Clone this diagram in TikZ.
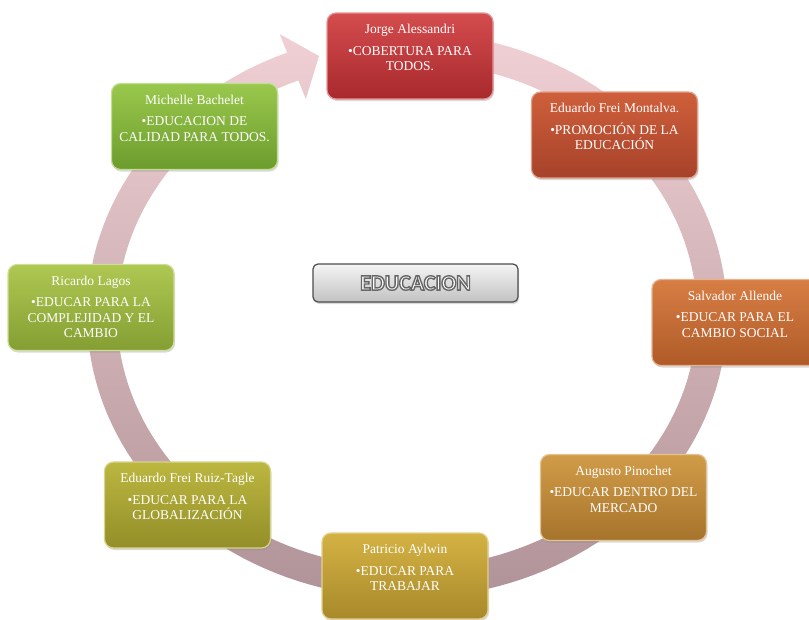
\documentclass[tikz,border=0pt]{standalone}
\usepackage{fontspec}
\setmainfont{Liberation Serif}
\newfontfamily\titlesans{Carlito}
\usetikzlibrary{shadows}

\definecolor{ringT}{HTML}{F0D0D4}
\definecolor{ringB}{HTML}{B09398}
\definecolor{jorT}{HTML}{D44C4E}\definecolor{jorB}{HTML}{A8292C}
\definecolor{frmT}{HTML}{CF5F3B}\definecolor{frmB}{HTML}{A6422A}
\definecolor{allT}{HTML}{D77E44}\definecolor{allB}{HTML}{AF5A28}
\definecolor{pinT}{HTML}{D19C48}\definecolor{pinB}{HTML}{A6732C}
\definecolor{ayT}{HTML}{D4B244}\definecolor{ayB}{HTML}{A8892A}
\definecolor{frtT}{HTML}{BCB740}\definecolor{frtB}{HTML}{938E28}
\definecolor{lagT}{HTML}{AFC852}\definecolor{lagB}{HTML}{849E33}
\definecolor{bacT}{HTML}{9AC84D}\definecolor{bacB}{HTML}{6C9C2D}

\begin{document}
\begin{tikzpicture}[x=1pt,y=-1pt,
  box/.style={rectangle, rounded corners=9pt, minimum width=166pt, minimum height=86pt,
    inner sep=0pt, line width=1.2pt,
    drop shadow={shadow xshift=1pt,shadow yshift=-2pt,opacity=0.3}},
  btext/.style={anchor=north, inner sep=0pt, align=center, text=white,
    font=\fontsize{13.5}{15.5}\selectfont},
  titlebox/.style={rectangle, rounded corners=5pt, minimum width=205pt, minimum height=38pt,
    inner sep=0pt, line width=1.2pt, draw=black!70, top color=white!96!black,
    bottom color=black!24, drop shadow={shadow xshift=1pt,shadow yshift=-2pt,opacity=0.3}}
]
\useasboundingbox (0,0) rectangle (809,619);
\clip (0,0) rectangle (809,619);

% circular arrow
\shade[top color=ringT, bottom color=ringB]
  plot[domain=95:-248,samples=160] ({407+320*cos(\x)},{315-283*sin(\x)})
  -- ({407+340*cos(112)},{315-303*sin(112)})
  -- (319,56)
  -- ({407+270*cos(112)},{315-233*sin(112)})
  -- plot[domain=-248:95,samples=160] ({407+290*cos(\x)},{315-253*sin(\x)})
  -- cycle;

% boxes
\node[box, top color=jorT, bottom color=jorB, draw=jorT!60!white] (jorge) at (410,56) {};
\node[btext] (jorget) at ([yshift=-12pt]jorge.north) {Jorge Alessandri\\[6pt]•COBERTURA PARA\\TODOS.};

\node[box, top color=frmT, bottom color=frmB, draw=frmT!60!white] (freim) at (614.5,135) {};
\node[btext] (freimt) at ([yshift=-12pt]freim.north) {Eduardo Frei Montalva.\\[6pt]•PROMOCIÓN DE LA\\EDUCACIÓN};

\node[box, top color=allT, bottom color=allB, draw=allT!60!white] (allende) at (735,322.5) {};
\node[btext] (allendet) at ([yshift=-12pt]allende.north) {Salvador Allende\\[6pt]•EDUCAR PARA EL\\CAMBIO SOCIAL};

\node[box, top color=pinT, bottom color=pinB, draw=pinT!60!white] (pinochet) at (623.5,497.5) {};
\node[btext] (pinochett) at ([yshift=-12pt]pinochet.north) {Augusto Pinochet\\[6pt]•EDUCAR DENTRO DEL\\MERCADO};

\node[box, top color=ayT, bottom color=ayB, draw=ayT!60!white] (aylwin) at (405,576) {};
\node[btext] (aylwint) at ([yshift=-12pt]aylwin.north) {Patricio Aylwin\\[6pt]•EDUCAR PARA\\TRABAJAR};

\node[box, top color=frtT, bottom color=frtB, draw=frtT!60!white] (freirt) at (187.5,505) {};
\node[btext] (freirtt) at ([yshift=-12pt]freirt.north) {Eduardo Frei Ruiz-Tagle\\[6pt]•EDUCAR PARA LA\\GLOBALIZACIÓN};

\node[box, top color=lagT, bottom color=lagB, draw=lagT!60!white] (lagos) at (91,307.5) {};
\node[btext] (lagost) at ([yshift=-12pt]lagos.north) {Ricardo Lagos\\[6pt]•EDUCAR PARA LA\\COMPLEJIDAD Y EL\\CAMBIO};

\node[box, top color=bacT, bottom color=bacB, draw=bacT!60!white] (bachelet) at (194.5,126.5) {};
\node[btext] (bachelett) at ([yshift=-12pt]bachelet.north) {Michelle Bachelet\\[6pt]•EDUCACION DE\\CALIDAD PARA TODOS.};

% centre title
\node[titlebox] (educ) at (415.5,283) {};
\node[inner sep=0pt, text=white, font=\titlesans\bfseries\fontsize{22}{22}\selectfont] (educt) at (educ.center)
  {\special{pdf:literal direct 2 Tr 1.4 w 0.4 0.4 0.4 RG}EDUCACION\special{pdf:literal direct 0 Tr}};
\end{tikzpicture}
\end{document}
